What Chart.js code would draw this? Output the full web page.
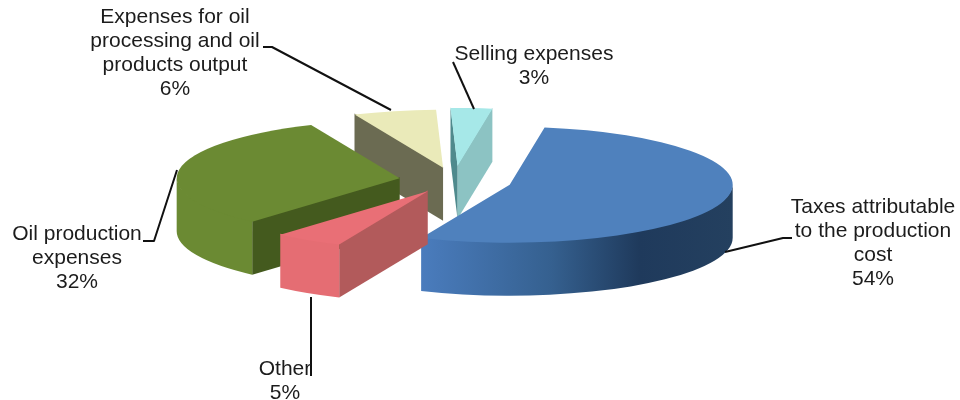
<!DOCTYPE html>
<html>
<head>
<meta charset="utf-8">
<style>
  html, body { margin: 0; padding: 0; background: #fff; }
  #wrap { width: 960px; height: 400px; }
</style>
<script src="https://cdn.jsdelivr.net/npm/chart.js@4/dist/chart.umd.min.js"></script>
</head>
<body>
<div id="wrap"><canvas id="cost" width="960" height="400"></canvas></div>
<script>
// Structure of oil production cost, share of each item in percent
const categories = [
  ['Taxes attributable', 'to the production', 'cost'],
  ['Other'],
  ['Oil production', 'expenses'],
  ['Expenses for oil', 'processing and oil', 'products output'],
  ['Selling expenses']
];
const shares = [54, 5, 32, 6, 3];

const topColors = ['#4f81bd', '#e96f76', '#6b8a33', '#eaeab9', '#a6e8e8'];
const startWallColors = ['#3a6291', '#b25a5b', '#445a1e', '#6b6b52', '#4f8a8d'];
const endWallColors = ['#3a6291', '#b25a5b', '#445a1e', '#6b6b52', '#8cc3c3'];
const rimStops = [
  [[0, '#4a7cbd'], [0.42, '#35608f'], [0.7, '#1f3a5c'], [1, '#24405f']],
  [[0, '#e56d73'], [1, '#e56d73']],
  [[0, '#6b8a33'], [1, '#6b8a33']],
  [[0, '#6b8a33'], [1, '#6b8a33']],
  [[0, '#8cc3c3'], [1, '#8cc3c3']]
];

// Pull-out distance of each slice along its middle angle
const explode = [58, 49, 55, 50, 56];
const paintOrder = [3, 4, 2, 0, 1];

const view = { cx: 454, cy: 180.5, squash: 0.26, depth: 53 };

// Label placement: text centre, first line centre and leader polyline
const labelBoxes = [
  { x: 873, y: 207, leader: [[792, 238], [783, 238], [725, 252]] },
  { x: 285, y: 369, leader: [[311, 376], [311, 297]] },
  { x: 77, y: 234, leader: [[143, 241], [154, 241], [177, 170]] },
  { x: 175, y: 17, leader: [[263, 47], [272, 47], [391, 110]] },
  { x: 534, y: 54, leader: [[453, 62], [474, 109]] }
];
const lineHeight = 24;

const pie3d = {
  id: 'pie3d',
  beforeDatasetsDraw(chart) {
    const ctx = chart.ctx;
    const arcs = chart.getDatasetMeta(0).data;
    const k = view.squash;

    paintOrder.forEach(i => {
      const arc = arcs[i];
      const r = arc.outerRadius;
      const a0 = arc.startAngle, a1 = arc.endAngle;
      const mid = (a0 + a1) / 2;
      const ox = view.cx + Math.cos(mid) * explode[i];
      const oy = view.cy + Math.sin(mid) * explode[i] * k;
      const rim = a => [ox + r * Math.cos(a), oy + r * k * Math.sin(a)];

      // Walls start a pixel under the top face so no seam shows along its edge
      const radialWall = (a, color) => {
        const p = rim(a);
        ctx.beginPath();
        ctx.moveTo(ox, oy - 1);
        ctx.lineTo(p[0], p[1] - 1);
        ctx.lineTo(p[0], p[1] + view.depth);
        ctx.lineTo(ox, oy + view.depth);
        ctx.closePath();
        ctx.fillStyle = color;
        ctx.fill();
      };
      // A cut face is drawn only when it turns toward the viewer
      if (Math.cos(a1) > 0) radialWall(a1, endWallColors[i]);
      if (Math.cos(a0) < 0) radialWall(a0, startWallColors[i]);

      // Curved outer wall, only where the rim faces the viewer
      const from = Math.max(a0, 0), to = Math.min(a1, Math.PI);
      if (to > from) {
        const left = rim(to)[0], right = from <= 0 ? ox + r : rim(from)[0];
        const g = ctx.createLinearGradient(left, 0, right, 0);
        rimStops[i].forEach(s => g.addColorStop(s[0], s[1]));
        ctx.beginPath();
        ctx.ellipse(ox, oy - 1, r, r * k, 0, from, to, false);
        ctx.ellipse(ox, oy + view.depth, r, r * k, 0, to, from, true);
        ctx.closePath();
        ctx.fillStyle = g;
        ctx.fill();
      }

      // Top face: the library's own arc element under a squashing transform
      ctx.save();
      ctx.translate(ox, oy);
      ctx.scale(1, k);
      ctx.translate(-arc.x, -arc.y);
      arc.draw(ctx);
      ctx.restore();
    });

    // Leader lines and data labels
    ctx.save();
    ctx.strokeStyle = '#111';
    ctx.lineWidth = 2;
    ctx.lineJoin = 'round';
    labelBoxes.forEach(b => {
      ctx.beginPath();
      b.leader.forEach((p, n) => n ? ctx.lineTo(p[0], p[1]) : ctx.moveTo(p[0], p[1]));
      ctx.stroke();
    });
    ctx.fillStyle = '#1c1c1c';
    ctx.font = '21px "Liberation Sans", Arial, sans-serif';
    ctx.textAlign = 'center';
    ctx.textBaseline = 'middle';
    labelBoxes.forEach((b, i) => {
      const lines = categories[i].concat(shares[i] + '%');
      lines.forEach((t, n) => ctx.fillText(t, b.x, b.y + n * lineHeight));
    });
    ctx.restore();
    return false;
  }
};

new Chart(document.getElementById('cost'), {
  type: 'pie',
  data: {
    labels: categories.map(c => c.join(' ')),
    datasets: [{ data: shares, backgroundColor: topColors, borderWidth: 0 }]
  },
  options: {
    responsive: false,
    animation: false,
    radius: 223,
    rotation: 9,
    plugins: { legend: { display: false }, tooltip: { enabled: false } }
  },
  plugins: [pie3d]
});
</script>
</body>
</html>
